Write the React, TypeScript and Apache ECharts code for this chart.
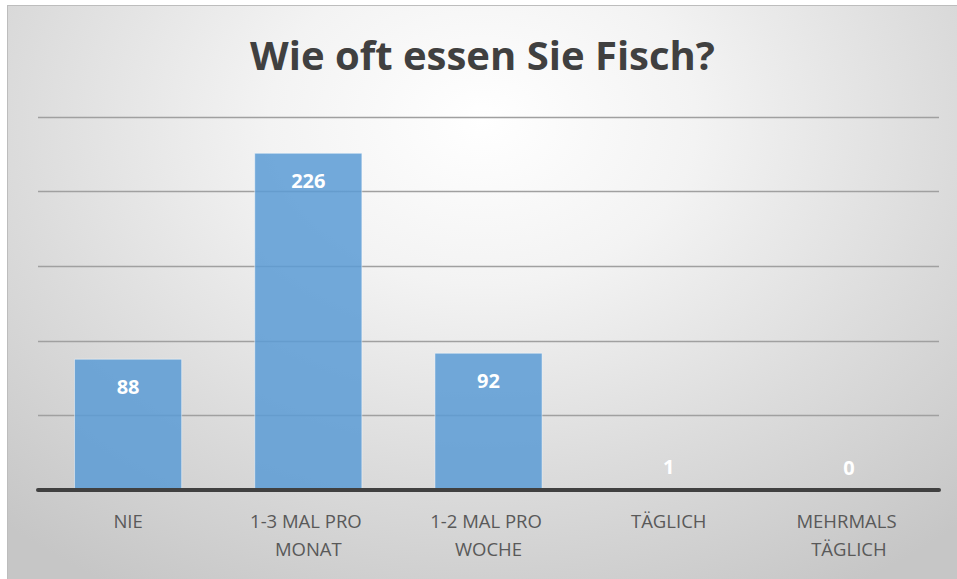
import React, { useEffect, useRef } from "react";
import * as echarts from "echarts";

const title = "Wie oft essen Sie Fisch?";
const categories = ["NIE", "1-3 MAL PRO MONAT", "1-2 MAL PRO WOCHE", "TÄGLICH", "MEHRMALS TÄGLICH"];
const values = [88, 226, 92, 1, 0];
const yMin = 0;
const yMax = 250;
const yInterval = 50;

export default function App() {
  const ref = useRef<HTMLDivElement>(null);
  useEffect(() => {
    if (!ref.current) return;
    const chart = echarts.init(ref.current, null, { renderer: "svg" });
    const font = "'Open Sans', 'Noto Sans', sans-serif";
    chart.setOption({
      animation: false,
      backgroundColor: "transparent",
      title: {
        text: title,
        left: "center",
        top: 23,
        padding: [5, 0, 5, 14],
        textStyle: { fontFamily: font, fontWeight: "bold", fontSize: 40, color: "#404040" },
      },
      grid: { left: 30, right: 18, top: 111, bottom: 89, containLabel: false },
      xAxis: {
        type: "category",
        data: categories,
        z: 5,
        axisLine: { show: true, lineStyle: { color: "#404040", width: 4 } },
        axisTick: { show: false },
        axisLabel: {
          fontFamily: font,
          fontSize: 18.5,
          color: "#595959",
          lineHeight: 28,
          margin: 16,
          width: 150,
          overflow: "break",
          interval: 0,
        },
      },
      yAxis: {
        type: "value",
        min: yMin,
        max: yMax,
        interval: yInterval,
        axisLine: { show: false },
        axisTick: { show: false },
        axisLabel: { show: false },
        splitLine: { show: true, lineStyle: { color: "#a0a0a0", width: 1.3 } },
      },
      series: [
        {
          type: "bar",
          barWidth: "60%",
          z: 2,
          data: values.map((v) => ({
            value: v,
            label: v > 20 ? { position: "insideTop", distance: 18 } : { position: "top", distance: 12 },
          })),
          itemStyle: {
            color: "rgba(91,155,213,0.85)",
            borderColor: "rgba(255,255,255,0.45)",
            borderWidth: 1,
          },
          label: {
            show: true,
            color: "#ffffff",
            fontFamily: font,
            fontWeight: "bold",
            fontSize: 20,
          },
        },
      ],
    });
    return () => chart.dispose();
  }, []);
  return (
    <div
      ref={ref}
      style={{
        position: "absolute",
        left: 7,
        top: 5,
        width: 950,
        height: 574,
        boxSizing: "border-box",
        borderTop: "1px solid #bdbdbd",
        borderLeft: "1px solid #bdbdbd",
        background:
          "radial-gradient(ellipse 75% 95% at 50% 20%, #ffffff 0%, #f3f3f3 30%, #dcdcdc 65%, #c6c6c6 100%)",
      }}
    />
  );
}
